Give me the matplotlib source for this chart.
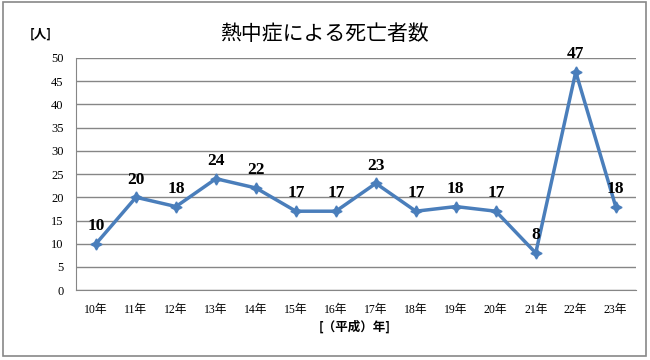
import matplotlib.pyplot as plt
from matplotlib.patches import Rectangle

plt.rcParams['font.family'] = ['Liberation Serif', 'Noto Sans CJK JP', 'DejaVu Sans']

#%% data
years = ['10年', '11年', '12年', '13年', '14年', '15年', '16年',
         '17年', '18年', '19年', '20年', '21年', '22年', '23年']
deaths = [10, 20, 18, 24, 22, 17, 17, 23, 17, 18, 17, 8, 47, 18]

#%% figure
fig = plt.figure(figsize=(6.5, 3.6), dpi=100)
fig.patches.append(Rectangle((0.004, 0.012), 0.99, 0.983, transform=fig.transFigure,
                             fill=False, edgecolor='#888888', lw=1.2))
ax = fig.add_axes([0.117, 0.194, 0.861, 0.645])

x = list(range(len(years)))
ax.plot(x, deaths, color='#4a7ebb', lw=2.5, marker=(4, 1, 0), ms=8,
        markerfacecolor='#4a7ebb', markeredgecolor='#4a7ebb', zorder=3)

for i, v in zip(x, deaths):
    ax.annotate(str(v), (i, v), xytext=(0, 7), textcoords='offset points',
                ha='center', va='bottom', fontsize=12.5, fontweight='bold',
                family=['Liberation Serif'])

ax.set_xlim(-0.5, len(years) - 0.5)
ax.set_ylim(0, 50)
ax.set_yticks(range(0, 51, 5))
ax.set_xticks(x)
ax.set_xticklabels(years, family=['Liberation Serif', 'Noto Sans CJK JP'], fontsize=8.5)
ax.tick_params(axis='y', labelsize=9, length=0, pad=9)
ax.tick_params(axis='x', length=0, pad=10)
ax.grid(axis='y', color='#868686', lw=1)
ax.set_axisbelow(True)
for s in ['top', 'right']:
    ax.spines[s].set_visible(False)
ax.spines['left'].set_color('#868686')
ax.spines['bottom'].set_color('#868686')

fig.text(0.5, 0.905, '熱中症による死亡者数', ha='center', va='center',
         fontsize=15, family=['Noto Sans CJK JP'])
fig.text(0.062, 0.905, '[人]', ha='center', va='center', fontsize=9,
         fontweight='bold', family=['Noto Sans CJK JP'])
fig.text(0.545, 0.092, '[（平成）年]', ha='center', va='center', fontsize=9,
         fontweight='bold', family=['Noto Sans CJK JP'])

fig.savefig('out.png', dpi=100)
